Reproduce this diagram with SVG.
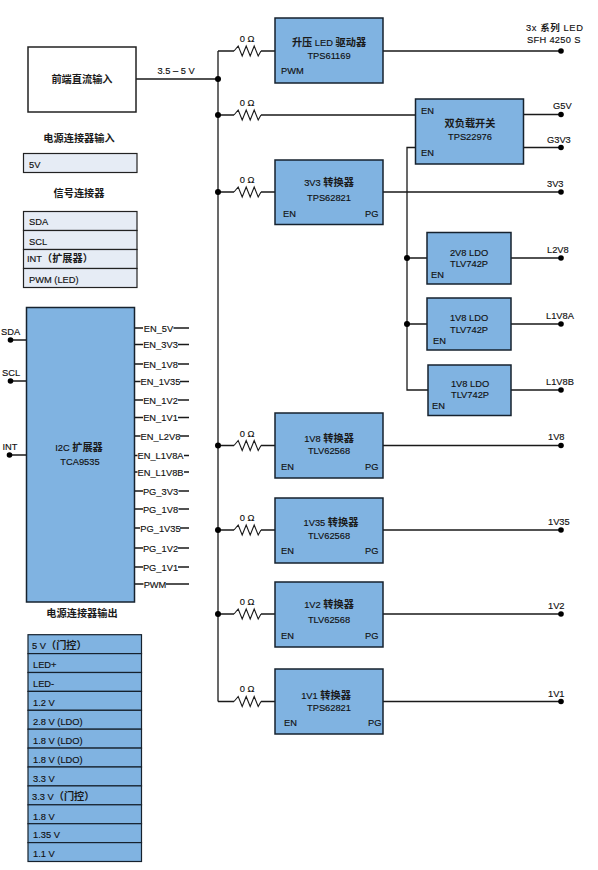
<svg xmlns="http://www.w3.org/2000/svg" xmlns:xlink="http://www.w3.org/1999/xlink" width="598" height="870" viewBox="0 0 598 870">
<style>
text{font-family:"Liberation Sans","Noto Sans CJK SC",sans-serif;font-size:9.3px;fill:#111;stroke:#111;stroke-width:.15px}
.m{text-anchor:middle}
.t{font-size:10.2px;font-weight:700;fill:#1a1a1a;stroke:none}
.b{fill:#80b3e1;stroke:#16222e;stroke-width:1.5}
.w0{fill:#fff;stroke:#222;stroke-width:1.5}
.l{fill:#e6ecf5;stroke:#222;stroke-width:1.2}
.o{fill:#80b3e1;stroke:#16222e;stroke-width:1.2}
.c{fill:none;stroke:#1a1a1a;stroke-width:1.3}
.d{fill:#000}
</style>
<defs>
<path id="r" d="M-13 0L-8.8 -5L-4.8 5L-.8 -5L3.2 5L7.2 -5L11.2 5L14 0" fill="none" stroke="#1a1a1a" stroke-width="1.1"/>
</defs>
<g id="connectors">
<path class="c" d="M136 79H218M218 51V701.500"/>
<path class="c" d="M218 51H234M261 51H275M218 115H234M261 115H415M218 192H234M261 192H275M218 445.500H234M261 445.500H275M218 530H234M261 530H275M218 614H234M261 614H275M218 701.500H234M261 701.500H275"/>
<path class="c" d="M383 51H561M523 114.500H561M523 147.500H561M383 192H561M511 258H561M511 324H561M511 390H561M383 445.500H561M383 530H561M383 614H561M383 701.500H561"/>
<path class="c" d="M415 147.500H407V390H428M407 258H427M407 324H427"/>
<path class="c" d="M10 340H26M10 381H26M9.500 455H26"/>
<path class="c" d="M134 328H143M173.500 328H189M134 344.500H143M178 344.500H189M134 364H143M178 364H189M134 381.500H140.500M180 381.500H189M134 400H143M178 400H189M134 417.500H143M178 417.500H189M134 436H140.500M180 436H189M134 455.500H137.500M184 455.500H189M134 472H137.500M184 472H189M134 491H143M178.500 491H189M134 509H143M178.500 509H189M134 528H140M180 528H189M134 548H143M178 548H189M134 567H143M178 567H189M134 584H143.500M166 584H189"/>
<g>
<use xlink:href="#r" href="#r" x="247" y="51"/><use xlink:href="#r" href="#r" x="247" y="115"/><use xlink:href="#r" href="#r" x="247" y="192"/><use xlink:href="#r" href="#r" x="247" y="445.500"/><use xlink:href="#r" href="#r" x="247" y="530"/><use xlink:href="#r" href="#r" x="247" y="614"/><use xlink:href="#r" href="#r" x="247" y="701.500"/>
</g>
<g class="d">
<circle cx="218" cy="79" r="3"/><circle cx="218" cy="115" r="3"/><circle cx="218" cy="192" r="3"/><circle cx="218" cy="445.500" r="3"/><circle cx="218" cy="530" r="3"/><circle cx="218" cy="614" r="3"/>
<circle cx="407" cy="258" r="3"/><circle cx="407" cy="324" r="3"/>
<circle cx="561" cy="51" r="2.800"/><circle cx="561" cy="114.500" r="2.800"/><circle cx="561" cy="147.500" r="2.800"/><circle cx="561" cy="192" r="2.800"/><circle cx="561" cy="258" r="2.800"/><circle cx="561" cy="324" r="2.800"/><circle cx="561" cy="390" r="2.800"/><circle cx="561" cy="445.500" r="2.800"/><circle cx="561" cy="530" r="2.800"/><circle cx="561" cy="614" r="2.800"/><circle cx="561" cy="701.500" r="2.800"/>
<circle cx="10.500" cy="340" r="2.800"/><circle cx="10.500" cy="381" r="2.800"/><circle cx="9.500" cy="455" r="2.800"/>
</g>
<g>
<text class="m" x="247" y="42">0 Ω</text><text class="m" x="247" y="106">0 Ω</text><text class="m" x="247" y="183">0 Ω</text><text class="m" x="247" y="437">0 Ω</text><text class="m" x="247" y="521">0 Ω</text><text class="m" x="247" y="605">0 Ω</text><text class="m" x="247" y="692">0 Ω</text>
<text class="m" x="176" y="73.500">3.5 – 5 V</text>
<text x="526" y="31" style="letter-spacing:.6px">3x <tspan class="t" style="font-size:9.500px">系列</tspan> LED</text>
<text x="527" y="43" style="letter-spacing:.3px">SFH 4250 S</text>
<text x="553" y="109">G5V</text><text x="547" y="142.500">G3V3</text><text x="547" y="187">3V3</text><text x="547" y="252.500">L2V8</text><text x="546" y="319">L1V8A</text><text x="546" y="384.500">L1V8B</text><text x="548" y="440">1V8</text><text x="548" y="524.500">1V35</text><text x="548" y="609">1V2</text><text x="548" y="696.500">1V1</text>
<text x="1" y="335">SDA</text><text x="2" y="376">SCL</text><text x="2.500" y="450">INT</text>
</g>
</g>
<g id="dc-input"><rect class="w0" x="28" y="47" width="108" height="65"/><text class="m t" x="82" y="83">前端直流输入</text></g>
<g id="power-input-connector"><text class="m t" x="79" y="142">电源连接器输入</text><rect class="l" x="23.500" y="153.500" width="113.500" height="19"/><text x="29" y="168">5V</text></g>
<g id="signal-connector"><text class="m t" x="79" y="197">信号连接器</text>
<rect class="l" x="23.500" y="211.500" width="113.500" height="19"/><rect class="l" x="23.500" y="230.500" width="113.500" height="19"/><rect class="l" x="23.500" y="249.500" width="113.500" height="19"/><rect class="l" x="23.500" y="268.500" width="113.500" height="19"/>
<text x="29" y="225">SDA</text><text x="29" y="244.500">SCL</text><text x="27" y="262">INT<tspan class="t">（扩展器）</tspan></text><text x="29" y="282.500">PWM (LED)</text></g>
<g id="led-driver"><rect class="b" x="275" y="18" width="108" height="65"/><text class="m" x="329" y="46"><tspan class="t">升压</tspan> LED <tspan class="t">驱动器</tspan></text><text class="m" x="329" y="58.500">TPS61169</text><text x="281" y="74">PWM</text></g>
<g id="load-switch"><rect class="b" x="415.500" y="99" width="108" height="65"/><text class="m t" x="470" y="127">双负载开关</text><text class="m" x="470" y="140">TPS22976</text><text x="421" y="114">EN</text><text x="421" y="155.500">EN</text></g>
<g id="conv-3v3"><rect class="b" x="275" y="160" width="108" height="64.500"/><text class="m" x="329" y="186">3V3 <tspan class="t">转换器</tspan></text><text class="m" x="329" y="200.500">TPS62821</text><text x="283" y="217">EN</text><text x="365" y="217">PG</text></g>
<g id="ldo-2v8"><rect class="b" x="427" y="232.500" width="84" height="51.500"/><text class="m" x="469" y="255.500">2V8 LDO</text><text class="m" x="469" y="266.500">TLV742P</text><text x="431" y="277.500">EN</text></g>
<g id="ldo-1v8a"><rect class="b" x="427" y="298" width="84" height="52"/><text class="m" x="469" y="321">1V8 LDO</text><text class="m" x="469" y="332.500">TLV742P</text><text x="433" y="344">EN</text></g>
<g id="ldo-1v8b"><rect class="b" x="428" y="365" width="83" height="50.500"/><text class="m" x="470" y="387">1V8 LDO</text><text class="m" x="470" y="398">TLV742P</text><text x="432" y="409">EN</text></g>
<g id="conv-1v8"><rect class="b" x="275" y="413" width="108" height="65"/><text class="m" x="329" y="441.500">1V8 <tspan class="t">转换器</tspan></text><text class="m" x="329" y="454">TLV62568</text><text x="281" y="469.500">EN</text><text x="365" y="469.500">PG</text></g>
<g id="conv-1v35"><rect class="b" x="275" y="498" width="108" height="65"/><text class="m" x="331" y="526">1V35 <tspan class="t">转换器</tspan></text><text class="m" x="329" y="538.500">TLV62568</text><text x="281" y="554">EN</text><text x="365" y="554">PG</text></g>
<g id="conv-1v2"><rect class="b" x="275" y="582" width="108" height="65"/><text class="m" x="329" y="607.500">1V2 <tspan class="t">转换器</tspan></text><text class="m" x="329" y="622.500">TLV62568</text><text x="281" y="638.500">EN</text><text x="365" y="638.500">PG</text></g>
<g id="conv-1v1"><rect class="b" x="275" y="669" width="108" height="65"/><text class="m" x="326" y="698.500">1V1 <tspan class="t">转换器</tspan></text><text class="m" x="329" y="710.500">TPS62821</text><text x="284" y="725.500">EN</text><text x="368" y="725.500">PG</text></g>
<g id="i2c-expander"><rect class="b" x="26.500" y="307.500" width="108" height="294.500"/><text class="m" x="79" y="451">I2C <tspan class="t">扩展器</tspan></text><text class="m" x="80" y="464.500">TCA9535</text>
<text class="m" x="158.500" y="331.500">EN_5V</text><text class="m" x="160.500" y="348">EN_3V3</text><text class="m" x="160.500" y="367.500">EN_1V8</text><text class="m" x="160.500" y="385">EN_1V35</text><text class="m" x="160.500" y="403.500">EN_1V2</text><text class="m" x="160.500" y="421">EN_1V1</text><text class="m" x="160.500" y="439.500">EN_L2V8</text><text class="m" x="160.500" y="459">EN_L1V8A</text><text class="m" x="160.500" y="475.500">EN_L1V8B</text><text class="m" x="160.500" y="494.500">PG_3V3</text><text class="m" x="160.500" y="512.500">PG_1V8</text><text class="m" x="160.500" y="531.500">PG_1V35</text><text class="m" x="160.500" y="551.500">PG_1V2</text><text class="m" x="160.500" y="570.500">PG_1V1</text><text class="m" x="155" y="587.500">PWM</text></g>
<g id="power-output-connector"><text class="m t" x="82" y="617">电源连接器输出</text>
<g class="o"><rect x="28" y="634.700" width="113.500" height="18.900"/><rect x="28" y="653.600" width="113.500" height="18.900"/><rect x="28" y="672.500" width="113.500" height="18.900"/><rect x="28" y="691.400" width="113.500" height="18.900"/><rect x="28" y="710.300" width="113.500" height="18.900"/><rect x="28" y="729.200" width="113.500" height="18.900"/><rect x="28" y="748.100" width="113.500" height="18.900"/><rect x="28" y="767" width="113.500" height="18.900"/><rect x="28" y="785.900" width="113.500" height="18.900"/><rect x="28" y="804.800" width="113.500" height="18.900"/><rect x="28" y="823.700" width="113.500" height="18.900"/><rect x="28" y="842.600" width="113.500" height="18.900"/></g>
<text x="32" y="649">5 V<tspan class="t">（门控）</tspan></text><text x="33" y="668">LED+</text><text x="33" y="687">LED-</text><text x="33" y="706">1.2 V</text><text x="33" y="725">2.8 V (LDO)</text><text x="33" y="744">1.8 V (LDO)</text><text x="33" y="763">1.8 V (LDO)</text><text x="33" y="781.500">3.3 V</text><text x="32" y="800">3.3 V<tspan class="t">（门控）</tspan></text><text x="33" y="819.500">1.8 V</text><text x="33" y="838">1.35 V</text><text x="33" y="857">1.1 V</text></g>
</svg>
